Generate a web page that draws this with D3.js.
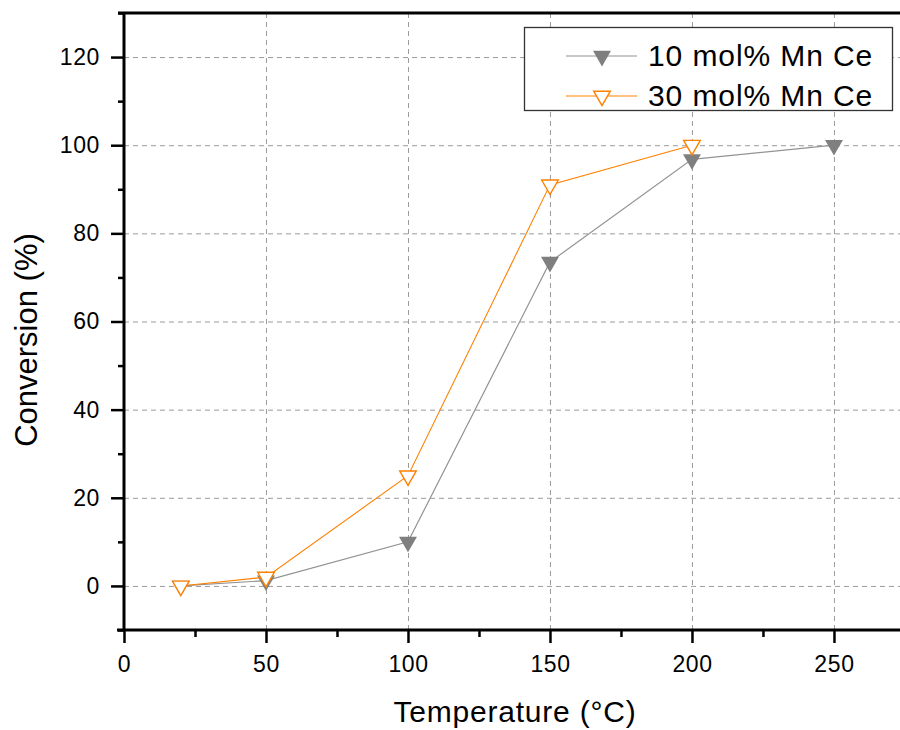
<!DOCTYPE html>
<html lang="en">

<head>
  <meta charset="UTF-8" />
  <title>Conversion vs Temperature</title>
  <style>
    body { margin: 0; background: #fff; }
    svg { display: block; font-family: Arial, 'Liberation Sans', sans-serif; }
  </style>
</head>

<body>
  <script src="https://d3js.org/d3.v7.min.js"></script>

  <script>
    // Data
    const temps10 = [20, 50, 100, 150, 200, 250];
    const conv10 = [0, 1.2, 10, 73.5, 96.8, 100];
    const temps30 = [20, 50, 100, 150, 200];
    const conv30 = [0, 2, 25, 91, 100];
    const seriesNames = ['10 mol% Mn Ce', '30 mol% Mn Ce'];

    const xMajor = [0, 50, 100, 150, 200, 250];
    const xMinor = [25, 75, 125, 175, 225];
    const yMajor = [0, 20, 40, 60, 80, 100, 120];
    const yMinor = [-10, 10, 30, 50, 70, 90, 110, 130];

    const W = 900, H = 730;
    const plotLeft = 124, plotRight = 899, plotTop = 13, plotBottom = 630;

    const svg = d3.select('body').append('svg')
      .attr('width', W)
      .attr('height', H);

    const x = d3.scaleLinear().domain([0, 272.9]).range([plotLeft, plotRight]);
    const y = d3.scaleLinear().domain([-10, 130]).range([plotBottom, plotTop]);

    // Grid (dashed)
    const grid = svg.append('g')
      .attr('stroke', '#9a9a9a')
      .attr('stroke-width', 1)
      .attr('stroke-dasharray', '5,4');

    grid.selectAll('.gx')
      .data(xMajor.filter(d => d > 0))
      .enter().append('line')
      .attr('x1', d => x(d) + 0.5).attr('x2', d => x(d) + 0.5)
      .attr('y1', plotTop).attr('y2', plotBottom);

    grid.selectAll('.gy')
      .data(yMajor)
      .enter().append('line')
      .attr('x1', plotLeft).attr('x2', W)
      .attr('y1', d => y(d) + 0.5).attr('y2', d => y(d) + 0.5);

    // Axes
    const fontSize = 23;

    svg.append('g')
      .attr('transform', `translate(0,${plotBottom})`)
      .call(d3.axisBottom(x).tickValues(xMajor).tickSize(13).tickPadding(13).tickSizeOuter(0));
    svg.append('g')
      .attr('transform', `translate(0,${plotBottom})`)
      .call(d3.axisBottom(x).tickValues(xMinor).tickSize(7).tickFormat('').tickSizeOuter(0));

    svg.append('g')
      .attr('transform', `translate(${plotLeft},0)`)
      .call(d3.axisLeft(y).tickValues(yMajor).tickSize(13).tickPadding(11).tickSizeOuter(0));
    svg.append('g')
      .attr('transform', `translate(${plotLeft},0)`)
      .call(d3.axisLeft(y).tickValues(yMinor).tickSize(6).tickFormat('').tickSizeOuter(0));

    svg.selectAll('.domain').remove();
    svg.selectAll('.tick line').attr('stroke', '#000').attr('stroke-width', 2.5);
    svg.selectAll('.tick text')
      .attr('fill', '#000')
      .style('font-size', fontSize + 'px')
      .style('letter-spacing', '0.6px')
      .style('font-family', "Arial, 'Liberation Sans', sans-serif");

    // Axis lines + top frame
    svg.append('line')
      .attr('x1', plotLeft - 7).attr('x2', W)
      .attr('y1', plotBottom).attr('y2', plotBottom)
      .attr('stroke', '#000').attr('stroke-width', 3);
    svg.append('line')
      .attr('x1', plotLeft).attr('x2', plotLeft)
      .attr('y1', plotTop).attr('y2', plotBottom)
      .attr('stroke', '#000').attr('stroke-width', 3);
    svg.append('line')
      .attr('x1', plotLeft - 6).attr('x2', W)
      .attr('y1', plotTop).attr('y2', plotTop)
      .attr('stroke', '#000').attr('stroke-width', 3);

    // Axis titles
    svg.append('text')
      .attr('x', 515)
      .attr('y', 722)
      .attr('text-anchor', 'middle')
      .style('font-size', '30px')
      .style('letter-spacing', '0.8px')
      .text('Temperature (\u00B0C)');

    svg.append('text')
      .attr('transform', 'translate(37,340) rotate(-90)')
      .attr('text-anchor', 'middle')
      .style('font-size', '31px')
      .text('Conversion (%)');

    // Series
    const gray = '#7f7f7f', grayLine = '#939393', orange = '#ff8000';
    const triFilled = d3.symbol().type(d3.symbolTriangle).size(140);
    const triOpen = d3.symbol().type(d3.symbolTriangle).size(120);

    const data10 = temps10.map((t, i) => ({ t, v: conv10[i] }));
    const data30 = temps30.map((t, i) => ({ t, v: conv30[i] }));
    const line = d3.line().x(d => x(d.t)).y(d => y(d.v));

    svg.append('path')
      .datum(data10)
      .attr('d', line)
      .attr('fill', 'none')
      .attr('stroke', grayLine)
      .attr('stroke-width', 1.2);

    svg.append('g').selectAll('path')
      .data(data10)
      .enter().append('path')
      .attr('d', triFilled)
      .attr('transform', d => `translate(${x(d.t)},${y(d.v)}) rotate(180)`)
      .attr('fill', gray);

    svg.append('path')
      .datum(data30)
      .attr('d', line)
      .attr('fill', 'none')
      .attr('stroke', orange)
      .attr('stroke-width', 1.1);

    svg.append('g').selectAll('path')
      .data(data30)
      .enter().append('path')
      .attr('d', triOpen)
      .attr('transform', d => `translate(${x(d.t)},${y(d.v)}) rotate(180)`)
      .attr('fill', '#fff')
      .attr('stroke', orange)
      .attr('stroke-width', 1.4);

    // Legend
    const legend = svg.append('g');
    legend.append('rect')
      .attr('x', 524.5).attr('y', 27.5)
      .attr('width', 368).attr('height', 83)
      .attr('fill', '#fff')
      .attr('stroke', '#333')
      .attr('stroke-width', 1.3);

    const legendRows = [
      { name: seriesNames[0], stroke: grayLine, fill: gray, width: 0, sym: triFilled, y: 56 },
      { name: seriesNames[1], stroke: orange, fill: '#fff', width: 1.4, sym: triOpen, y: 96 }
    ];

    const row = legend.selectAll('.row')
      .data(legendRows)
      .enter().append('g')
      .attr('transform', d => `translate(0,${d.y})`);

    row.append('line')
      .attr('x1', 566).attr('x2', 637)
      .attr('stroke', d => d.stroke)
      .attr('stroke-width', 1.2);

    row.append('path')
      .attr('d', d => d.sym())
      .attr('transform', 'translate(602,0) rotate(180)')
      .attr('fill', d => d.fill)
      .attr('stroke', d => d.width ? d.stroke : 'none')
      .attr('stroke-width', d => d.width);

    row.append('text')
      .attr('x', 648)
      .attr('y', 10)
      .style('font-size', '30px')
      .style('letter-spacing', '0.9px')
      .text(d => d.name);
  </script>
</body>

</html>
